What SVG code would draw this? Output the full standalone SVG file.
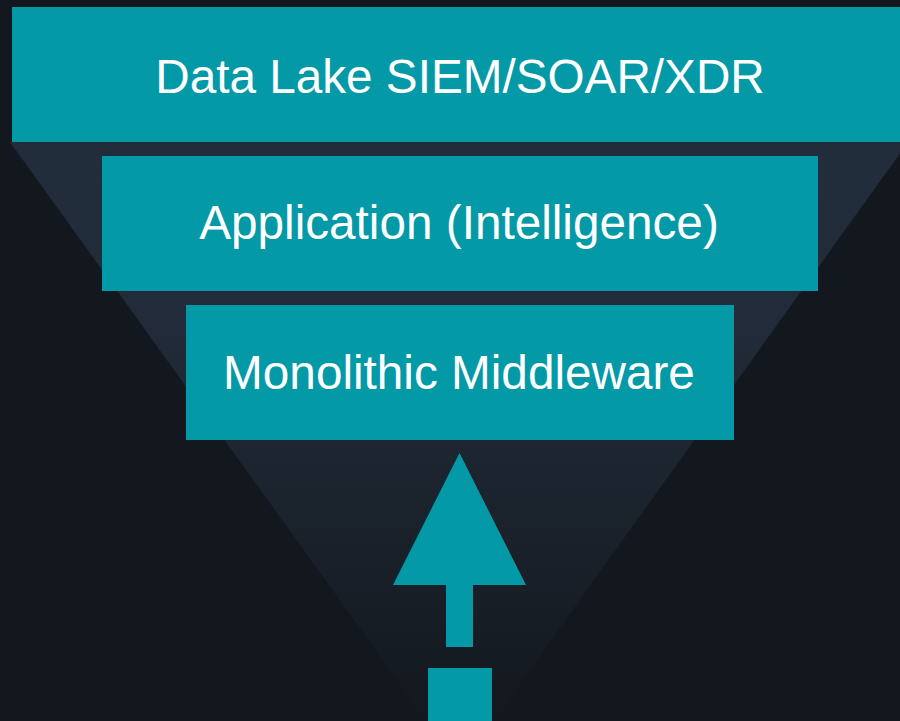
<svg xmlns="http://www.w3.org/2000/svg" width="900" height="721" viewBox="0 0 900 721">
  <defs>
    <linearGradient id="funnel" x1="0" y1="0" x2="0" y2="1" gradientUnits="objectBoundingBox">
      <stop offset="0" stop-color="#222d3c"/>
      <stop offset="0.3" stop-color="#212b39"/>
      <stop offset="0.9" stop-color="#14191f"/>
      <stop offset="1" stop-color="#13181f"/>
    </linearGradient>
    <style>
      .box { fill: #0399a7; }
      .lbl { fill: #ffffff; font-family: "Liberation Sans", Arial, sans-serif; font-size: 47.7px; text-anchor: middle; }
      .shape { fill: #0399a7; }
    </style>
  </defs>
  <rect x="0" y="0" width="900" height="721" fill="#13181f"/>
  <polygon points="10,142 908,142 460,767" fill="url(#funnel)"/>
  <g id="node-datalake">
    <rect class="box" x="12" y="7" width="900" height="135"/>
    <text class="lbl" x="460" y="92.5">Data Lake SIEM/SOAR/XDR</text>
  </g>
  <g id="node-application">
    <rect class="box" x="102" y="156" width="716" height="135"/>
    <text class="lbl" x="459" y="239">Application (Intelligence)</text>
  </g>
  <g id="node-middleware">
    <rect class="box" x="186" y="305" width="548" height="135"/>
    <text class="lbl" x="459" y="389">Monolithic Middleware</text>
  </g>
  <g id="connectors">
    <polygon class="shape" points="459.5,453 526,585 473,585 473,647 446,647 446,585 393,585"/>
    <rect class="shape" x="428" y="668" width="64" height="53"/>
  </g>
</svg>
